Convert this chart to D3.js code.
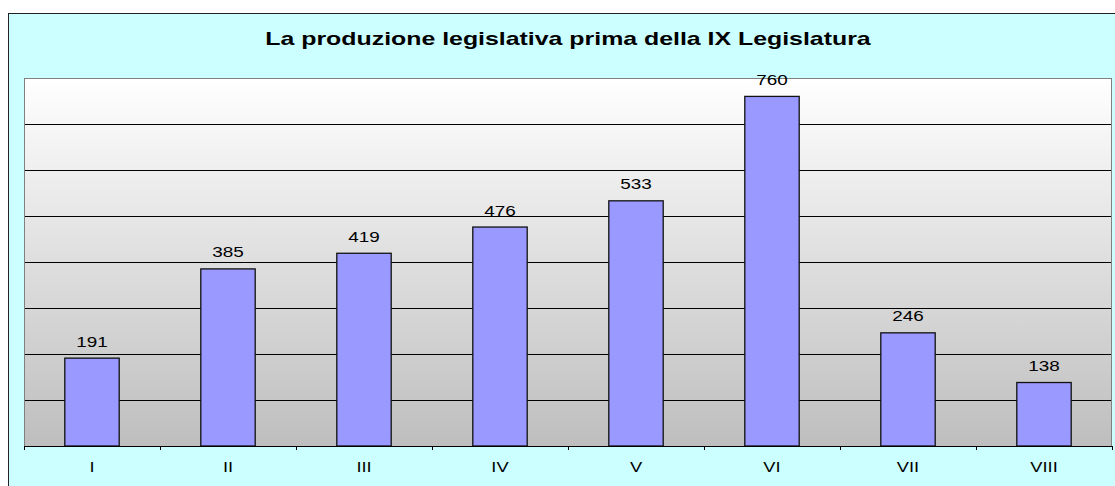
<!DOCTYPE html>
<html><head><meta charset="utf-8">
<script src="https://cdn.jsdelivr.net/npm/d3@7"></script>
<style>body{margin:0;background:#fff}svg{display:block}text{font-family:Arial,"Liberation Sans",sans-serif}</style>
</head><body>
<svg id="c" width="1115" height="486"></svg>
<script>
const title = "La produzione legislativa prima della IX Legislatura";
const categories = ["I","II","III","IV","V","VI","VII","VIII"];
const values = [191,385,419,476,533,760,246,138];
const yTicks = [0,100,200,300,400,500,600,700,800];

const svg = d3.select("#c");
const W = 1115, H = 486;
const plot = {l:24, t:78, r:1112, b:446};
const sx = 1.22;

// outer chart area
svg.append("rect").attr("x",8.5).attr("y",13.5).attr("width",W+20).attr("height",H+20)
  .attr("fill","#CCFFFF").attr("stroke","#222").attr("stroke-width",1);

const defs = svg.append("defs");
const g = defs.append("linearGradient").attr("id","bg").attr("x1",0).attr("y1",0).attr("x2",0).attr("y2",1);
g.append("stop").attr("offset","0%").attr("stop-color","#FFFFFF");
g.append("stop").attr("offset","100%").attr("stop-color","#BEBEBE");

const x = d3.scaleBand().domain(categories).range([plot.l, plot.r]).paddingInner(0.6).paddingOuter(0.3);
const xb = d3.scaleLinear().domain([0, categories.length]).range([plot.l, plot.r]);
const y = d3.scaleLinear().domain([0, d3.max(yTicks)]).range([plot.b, plot.t]);

svg.append("rect").attr("x",plot.l).attr("y",plot.t).attr("width",plot.r-plot.l).attr("height",plot.b-plot.t)
  .attr("fill","url(#bg)");

// gridlines
const grid = svg.append("g").attr("transform",`translate(${plot.l},0)`)
  .call(d3.axisLeft(y).tickValues(yTicks.slice(1,-1)).tickSize(-(plot.r-plot.l)).tickFormat(""));
grid.select(".domain").remove();
grid.selectAll("line").attr("stroke","#000").attr("stroke-width",1);

// plot border
svg.append("rect").attr("x",plot.l+0.5).attr("y",plot.t+0.5).attr("width",plot.r-plot.l-1).attr("height",plot.b-plot.t)
  .attr("fill","none").attr("stroke","#808080").attr("stroke-width",1);

// bars
svg.append("g").selectAll("rect").data(values).join("rect")
  .attr("x",(d,i)=>x(categories[i]))
  .attr("y",d=>y(d))
  .attr("width",x.bandwidth())
  .attr("height",d=>y(0)-y(d))
  .attr("fill","#9999FF").attr("stroke","#111").attr("stroke-width",1.3);

// x axis
const ax = svg.append("g").attr("transform",`translate(0,${plot.b})`)
  .call(d3.axisBottom(xb).tickValues(d3.range(categories.length+1)).tickFormat("").tickSize(4).tickSizeOuter(0));
ax.selectAll("line,path").attr("stroke","#000").attr("stroke-width",1);

function stext(px, py, txt, size, weight, s){
  return svg.append("text").attr("transform",`translate(${px},${py}) scale(${s||sx},1)`)
    .attr("text-anchor","middle").attr("font-size",size).attr("font-weight",weight||"normal")
    .attr("fill","#000").text(txt);
}

values.forEach((v,i)=>{
  stext(x(categories[i])+x.bandwidth()/2, y(v)-11.5, v, 15.5);
});
categories.forEach(c=>{
  stext(x(c)+x.bandwidth()/2, 472, c, 15);
});
stext((plot.l+plot.r)/2, 44.5, title, 19, "bold", 1.31);
</script>
</body></html>
